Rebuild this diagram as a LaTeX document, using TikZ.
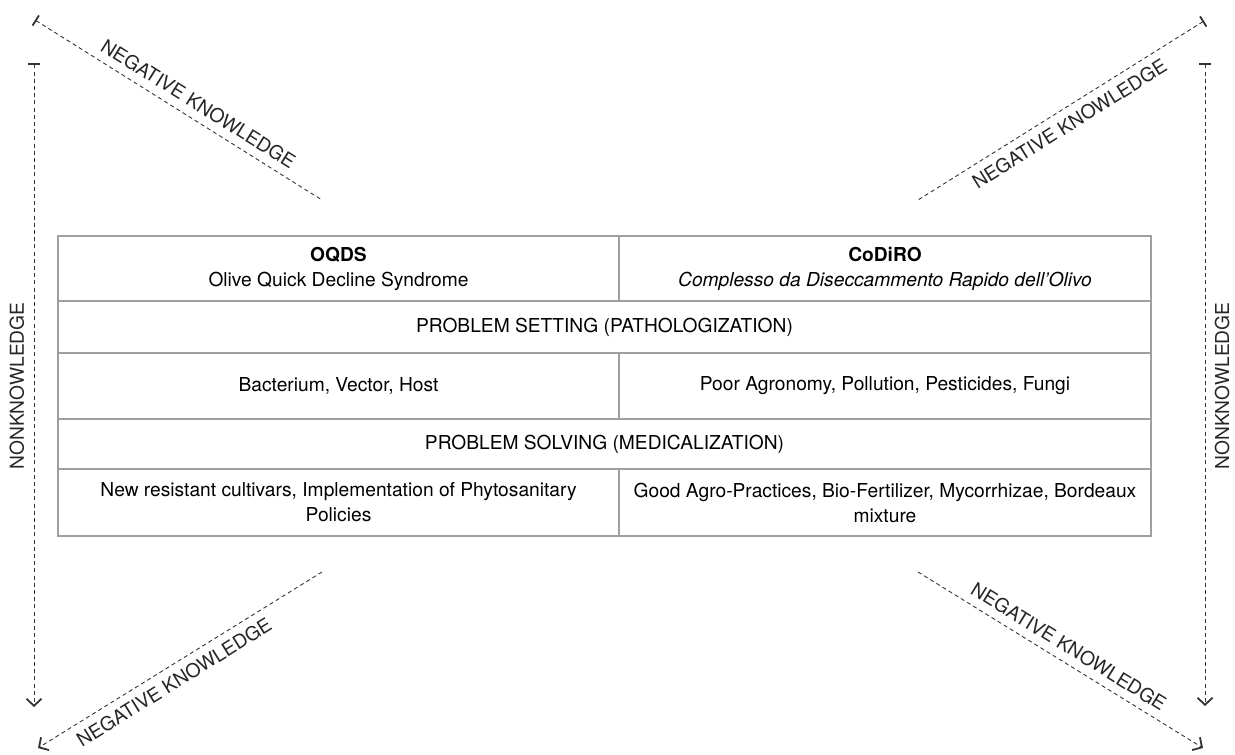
\documentclass[tikz,border=0pt]{standalone}
\usepackage{fontspec}
\setmainfont{TeX Gyre Heros}
\usetikzlibrary{arrows.meta}

\tikzstyle{cell}=[draw=gray!75, line width=0.6pt, text centered, align=center, inner sep=0pt, outer sep=0pt, font=\fontsize{9.6}{12.5}\selectfont]
\tikzstyle{guide}=[dash pattern=on 2pt off 1.6pt, line width=0.45pt, draw=black!80]
\tikzstyle{tag}=[font=\fontsize{9.6}{11}\selectfont, inner sep=4pt, text=black!85]
\tikzstyle{stop}=[{Bar[width=6pt,line width=0.9pt]}-]

\begin{document}
\begin{tikzpicture}[x=0.5pt, y=-0.5pt, >={Straight Barb[length=3.5pt,width=7.5pt,line width=0.9pt]}]
          \useasboundingbox (0,0) rectangle (1235,754);

          % table
          \node (oqds) [cell, minimum width=280.5pt, minimum height=32.5pt] at (338.5,268.5) {\textbf{OQDS}\\Olive Quick Decline Syndrome};
          \node (codiro) [cell, minimum width=266pt, minimum height=32.5pt] at (885,268.5) {\textbf{CoDiRO}\\\textit{Complesso da Diseccammento Rapido dell’Olivo}};
          \node (setting) [cell, minimum width=546.5pt, minimum height=26pt] at (604.5,327) {PROBLEM SETTING (PATHOLOGIZATION)};
          \node (causeL) [cell, minimum width=280.5pt, minimum height=33pt] at (338.5,386) {Bacterium, Vector, Host};
          \node (causeR) [cell, minimum width=266pt, minimum height=33pt] at (885,386) {Poor Agronomy, Pollution, Pesticides, Fungi};
          \node (solving) [cell, minimum width=546.5pt, minimum height=25pt] at (604.5,444) {PROBLEM SOLVING (MEDICALIZATION)};
          \node (cureL) [cell, minimum width=280.5pt, minimum height=33.5pt] at (338.5,502.5) {New resistant cultivars, Implementation of Phytosanitary\\Policies};
          \node (cureR) [cell, minimum width=266pt, minimum height=33.5pt] at (885,502.5) {Good Agro-Practices, Bio-Fertilizer, Mycorrhizae, Bordeaux\\mixture};

          % end points of the dashed guides
          \coordinate (nwA) at (35,20);
          \coordinate (nwB) at (322,200);
          \coordinate (neA) at (1204,21);
          \coordinate (neB) at (918,200);
          \coordinate (swA) at (322,572);
          \coordinate (swB) at (38,748);
          \coordinate (seA) at (918,572);
          \coordinate (seB) at (1203,748);
          \coordinate (wA) at (34,63);
          \coordinate (wB) at (34,707);
          \coordinate (eA) at (1205,63);
          \coordinate (eB) at (1205,706);

          \draw [guide, stop] (nwA) -- node [tag, sloped, above, pos=0.54] {NEGATIVE KNOWLEDGE} (nwB);
          \draw [guide, stop] (neA) -- node [tag, sloped, below, pos=0.5] {NEGATIVE KNOWLEDGE} (neB);
          \draw [guide, ->] (swA) -- node [tag, sloped, below, pos=0.55] {NEGATIVE KNOWLEDGE} (swB);
          \draw [guide, ->] (seA) -- node [tag, sloped, above, pos=0.5] {NEGATIVE KNOWLEDGE} (seB);

          \draw [guide, {Bar[width=6pt,line width=0.9pt]}->] (wA) -- (wB);
          \draw [guide, {Bar[width=6pt,line width=0.9pt]}->] (eA) -- (eB);
          \node (nkL) [tag, rotate=90] at (17,386) {NONKNOWLEDGE};
          \node (nkR) [tag, rotate=90] at (1222,386) {NONKNOWLEDGE};
\end{tikzpicture}
\end{document}
